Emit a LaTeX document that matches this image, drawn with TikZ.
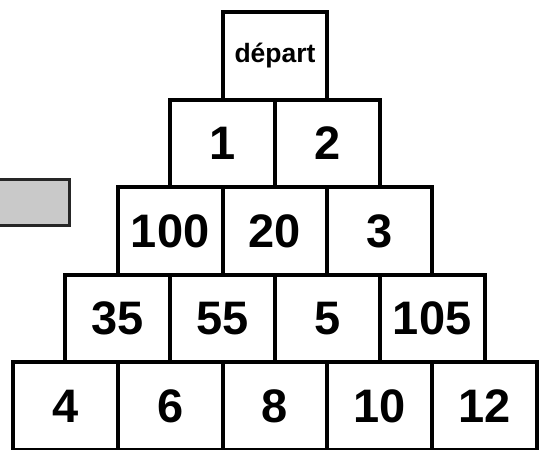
\documentclass[tikz,border=0pt]{standalone}
\usepackage{fontspec}
\setmainfont{Liberation Sans}
\begin{document}
\begin{tikzpicture}[x=1pt,y=-1pt,
  cell/.style={draw=black,line width=4pt,rectangle,minimum width=104.8pt,minimum height=87.6pt,inner sep=0pt,
    font=\fontsize{47}{47}\selectfont\bfseries},
  startcell/.style={cell,font=\fontsize{26.5}{26.5}\selectfont\bfseries},
  graybox/.style={draw=black!85,line width=3pt,fill=black!21,rectangle,minimum width=90pt,minimum height=46pt,inner sep=0pt}]
\useasboundingbox (0,0) rectangle (539,450);
\clip (0,0) rectangle (539,450);
\node[graybox] (g) at (24,202.5) {};
% row 1
\node[startcell] (d) at (275,55.8) {départ};
% row 2
\node[cell] (a1) at (222.6,143.4) {1};
\node[cell] (a2) at (327.4,143.4) {2};
% row 3
\node[cell] (b1) at (170.2,231) {100};
\node[cell] (b2) at (275,231) {20};
\node[cell] (b3) at (379.8,231) {3};
% row 4
\node[cell] (c1) at (117.8,318.6) {35};
\node[cell] (c2) at (222.6,318.6) {55};
\node[cell] (c3) at (327.4,318.6) {5};
\node[cell] (c4) at (432.2,318.6) {105};
% row 5
\node[cell] (e1) at (65.4,406.2) {4};
\node[cell] (e2) at (170.2,406.2) {6};
\node[cell] (e3) at (275,406.2) {8};
\node[cell] (e4) at (379.8,406.2) {10};
\node[cell] (e5) at (484.6,406.2) {12};
\end{tikzpicture}
\end{document}
